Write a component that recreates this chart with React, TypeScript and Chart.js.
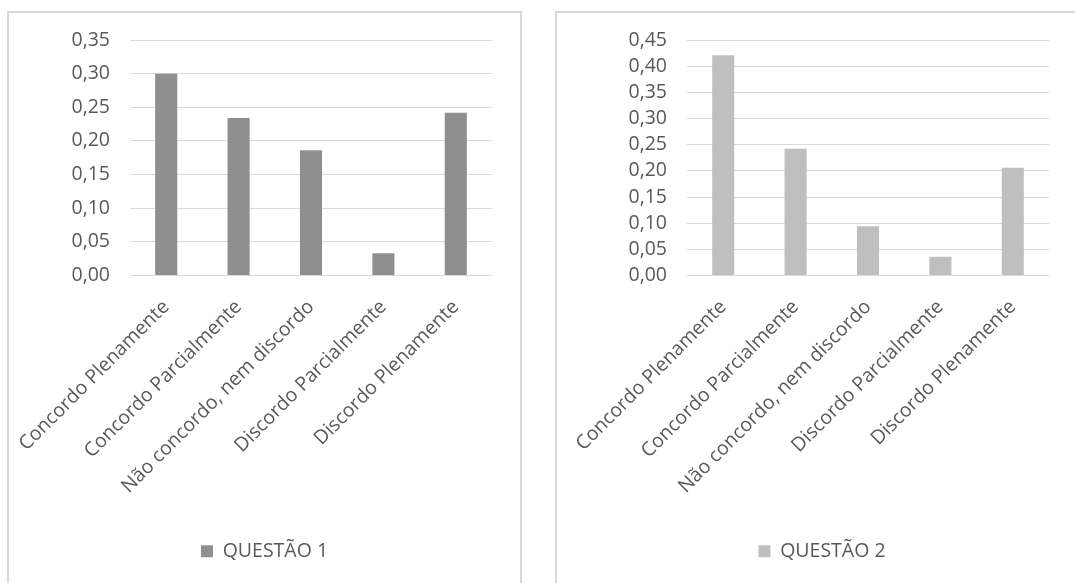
import React, { useEffect, useRef } from "react";
import { Chart, registerables } from "chart.js";

Chart.register(...registerables);

const categories = [
  "Concordo Plenamente",
  "Concordo Parcialmente",
  "Não concordo, nem discordo",
  "Discordo Parcialmente",
  "Discordo Plenamente",
];
const questao1 = [0.3, 0.234, 0.186, 0.033, 0.242];
const questao2 = [0.421, 0.242, 0.094, 0.036, 0.206];
const label1 = "QUESTÃO 1";
const label2 = "QUESTÃO 2";
const max1 = 0.35;
const max2 = 0.45;

const FONT = "'Open Sans', 'Noto Sans', sans-serif";
const FS = 19.5;
const TEXT = "#595959";
const GRID = "#d9d9d9";

type Props = {
  values: number[];
  label: string;
  color: string;
  max: number;
  pad: number;
  yWidth: number;
  width: number;
};

function BarChart({ values, label, color, max, pad, yWidth, width }: Props) {
  const ref = useRef<HTMLCanvasElement | null>(null);
  useEffect(() => {
    if (!ref.current) return;
    const chart = new Chart(ref.current, {
      type: "bar",
      data: {
        labels: categories,
        datasets: [
          {
            label,
            data: values,
            backgroundColor: color,
            borderWidth: 0,
            barPercentage: 0.305,
            categoryPercentage: 1,
          },
        ],
      },
      options: {
        animation: false,
        responsive: false,
        maintainAspectRatio: false,
        layout: { padding: { top: 27, right: pad, bottom: 12, left: pad } },
        plugins: {
          tooltip: { enabled: false },
          legend: {
            position: "bottom",
            labels: {
              boxWidth: 12,
              boxHeight: 12,
              color: TEXT,
              font: { family: FONT, size: FS },
              padding: 10,
            },
          },
        },
        scales: {
          x: {
            grid: { display: false, drawTicks: false },
            border: { display: false },
            ticks: {
              color: TEXT,
              font: { family: FONT, size: FS },
              minRotation: 45,
              maxRotation: 45,
              padding: 20,
              autoSkip: false,
            },
            afterFit: (s: any) => {
              s.height = 256;
              s.paddingLeft = 0;
              s.paddingRight = 0;
            },
          },
          y: {
            min: 0,
            max,
            grid: { color: GRID, lineWidth: 1, drawTicks: false },
            border: { display: false },
            ticks: {
              stepSize: 0.05,
              autoSkip: false,
              color: TEXT,
              padding: 20,
              font: { family: FONT, size: FS },
              callback: (v: any) => Number(v).toFixed(2).replace(".", ","),
            },
            afterFit: (s: any) => {
              s.width = yWidth;
              s.paddingTop = 0;
              s.paddingBottom = 0;
            },
          },
        },
      },
    });
    return () => chart.destroy();
  }, []);
  return <canvas ref={ref} width={width} height={570} style={{ display: "block" }} />;
}

export default function App() {
  return (
    <div
      style={{
        position: "fixed",
        left: 0,
        top: 0,
        width: 1075,
        height: 583,
        overflow: "hidden",
        background: "#fff",
      }}
    >
      <div
        style={{
          position: "absolute",
          left: 7,
          top: 11,
          width: 511,
          height: 580,
          border: `2px solid ${GRID}`,
          background: "#fff",
        }}
      >
        <BarChart values={questao1} label={label1} color="#8f8f8f" max={max1} pad={28} yWidth={93} width={511} />
      </div>
      <div
        style={{
          position: "absolute",
          left: 555,
          top: 11,
          width: 530,
          height: 580,
          border: `2px solid ${GRID}`,
          background: "#fff",
        }}
      >
        <BarChart values={questao2} label={label2} color="#bfbfbf" max={max2} pad={38} yWidth={92} width={530} />
      </div>
    </div>
  );
}
